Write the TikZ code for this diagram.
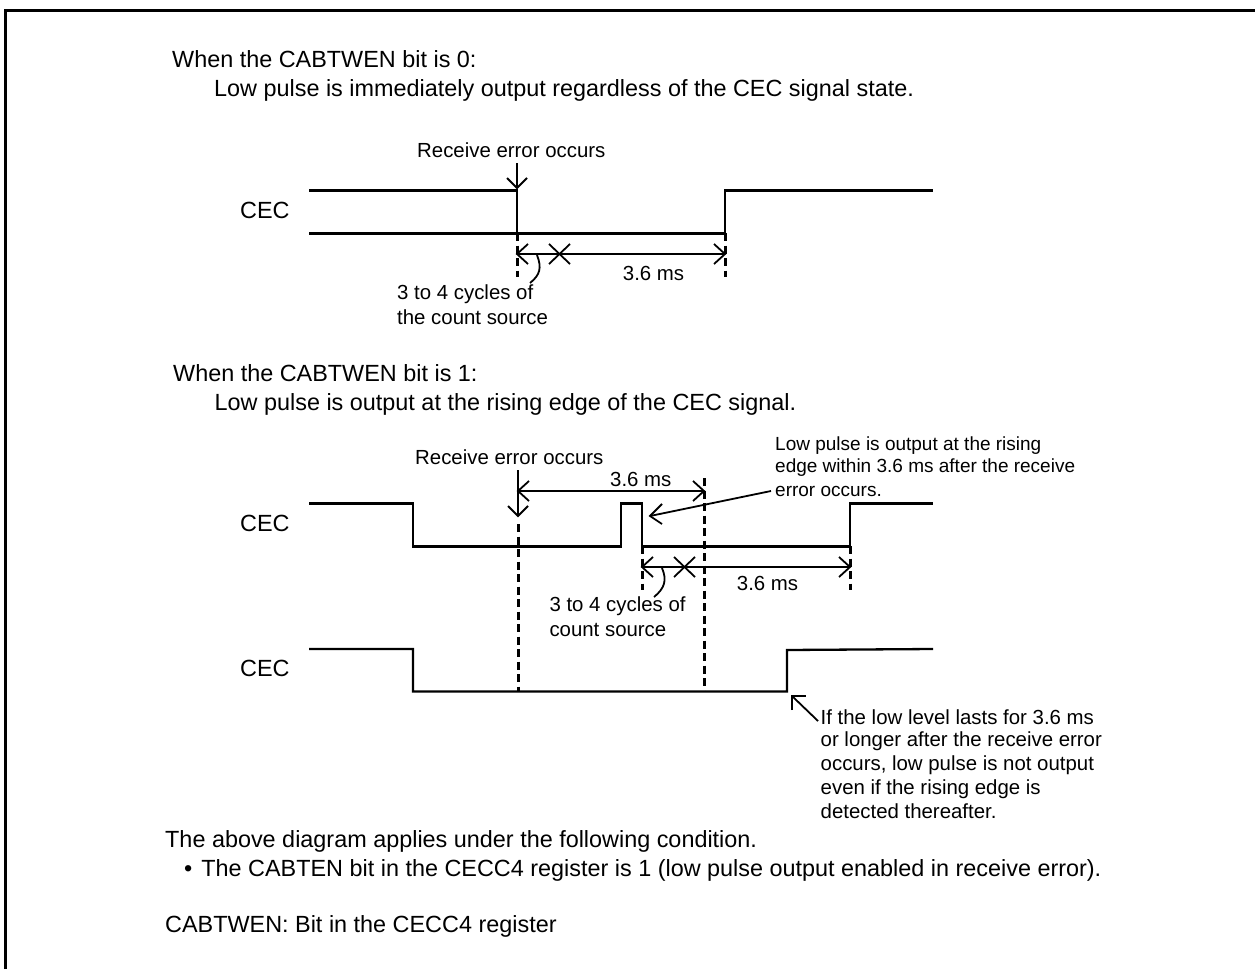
\documentclass[tikz,border=0pt]{standalone}
\usepackage{fontspec}
\setmainfont{Liberation Sans}
\begin{document}
\begin{tikzpicture}[x=1pt,y=-1pt,
  wave/.style={line width=2.3pt,line join=miter},
  thin/.style={line width=1.8pt},
  guide/.style={line width=3pt,dash pattern=on 8pt off 4.5pt},
  big/.style={anchor=base west,inner sep=0pt,font=\fontsize{23.4}{27}\selectfont},
  mid/.style={anchor=base west,inner sep=0pt,font=\fontsize{20.4}{24}\selectfont},
  lbl/.style={anchor=base west,inner sep=0pt,font=\fontsize{19}{23}\selectfont},
]
\useasboundingbox (0,0) rectangle (1255,969);
\draw[line width=3pt] (5,969) -- (5,10.5) -- (1255,10.5);
% text
\node[big] (t1) at (172,67) {When the CABTWEN bit is 0:};
\node[big] (t2) at (214,96) {Low pulse is immediately output regardless of the CEC signal state.};
\node[mid] (re1) at (417,157) {Receive error occurs};
\node[big] (c1) at (240,218.5) {CEC};
\node[mid] (a1) at (397,299) {3 to 4 cycles of};
\node[mid] (a2) at (397,324) {the count source};
\node[mid] (ms1) at (622.7,280.7) {3.6 ms};
\node[big] (t3) at (173,381.7) {When the CABTWEN bit is 1:};
\node[big] (t4) at (214.5,410) {Low pulse is output at the rising edge of the CEC signal.};
\node[mid] (re2) at (415,464) {Receive error occurs};
\node[mid] (ms2) at (610,486) {3.6 ms};
\node[lbl] (b1) at (775,450.5) {Low pulse is output at the rising};
\node[lbl] (b2) at (775,472.5) {edge within 3.6 ms after the receive};
\node[lbl] (b3) at (775,496) {error occurs.};
\node[big] (c2) at (240,531.7) {CEC};
\node[mid] (ms3) at (736.7,590.7) {3.6 ms};
\node[mid] (d1) at (549.3,611.7) {3 to 4 cycles of};
\node[mid] (d2) at (549.3,636.7) {count source};
\node[big] (c3) at (240,676.7) {CEC};
\node[mid] (e1) at (820.5,724.5) {If the low level lasts for 3.6 ms};
\node[mid] (e2) at (820.5,746.5) {or longer after the receive error};
\node[mid] (e3) at (820.5,770) {occurs, low pulse is not output};
\node[mid] (e4) at (820.5,794) {even if the rising edge is};
\node[mid] (e5) at (820.5,818) {detected thereafter.};
\node[big] (f1) at (165,847.7) {The above diagram applies under the following condition.};
\node[big] (f2) at (184,876.7) {\textbullet\hspace{2.5pt}\ The CABTEN bit in the CECC4 register is 1 (low pulse output enabled in receive error).};
\node[big] (f3) at (165,932.3) {CABTWEN: Bit in the CECC4 register};
% first diagram
\draw[wave] (309,190.5) -- (517,190.5) -- (517,233.5);
\draw[wave] (309,233.5) -- (725,233.5);
\draw[wave] (725,233.5) -- (725,190.5) -- (933,190.5);
\draw[guide] (517,233) -- (517,277);
\draw[guide] (725,233) -- (725,277);
\draw[thin] (517,163) -- (517,188);
\draw[thin] (507,178) -- (517,188) -- (527,178);
\draw[thin] (517,254) -- (725,254);
\draw[thin] (528,244) -- (517,254) -- (528,264);
\draw[thin] (714,244) -- (725,254) -- (714,264);
\draw[thin] (549,244) -- (570,264) (570,244) -- (549,264);
\draw[line width=1.8pt] (537,255) .. controls (542,268) and (540,275) .. (530,283);
% second diagram
\draw[wave] (309,503.5) -- (413,503.5) -- (413,546.5) -- (621,546.5) -- (621,503.5) -- (642,503.5) -- (642,546.5) -- (850,546.5) -- (850,503.5) -- (933,503.5);
\draw[guide] (642,546) -- (642,590);
\draw[guide] (850,546) -- (850,590);
\draw[guide] (518,524) -- (518,692);
\draw[guide] (704,478) -- (704,692);
\draw[thin] (518,470) -- (518,516);
\draw[thin] (508,506) -- (518,516) -- (528,506);
\draw[thin] (518,491) -- (704,491);
\draw[thin] (529,481) -- (518,491) -- (529,501);
\draw[thin] (693,481) -- (704,491) -- (693,501);
\draw[thin] (642,567) -- (850,567);
\draw[thin] (653,557) -- (642,567) -- (653,577);
\draw[thin] (839,557) -- (850,567) -- (839,577);
\draw[thin] (674,557) -- (695,577) (695,557) -- (674,577);
\draw[line width=1.8pt] (662,568) .. controls (667,580) and (665,588) .. (654,597);
\draw[thin] (771,491) -- (650,516);
\draw[thin] (662,504) -- (650,516) -- (662,524);
% third diagram
\draw[wave] (309,649) -- (413,649) -- (413,691.5) -- (787,691.5) -- (787,650) -- (933,649);
\draw[thin] (818,721) -- (792,696);
\draw[thin] (792,710) -- (792,696) -- (806,696);
\end{tikzpicture}
\end{document}
